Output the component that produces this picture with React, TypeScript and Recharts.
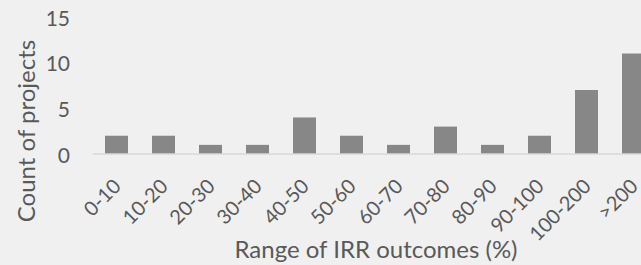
import { BarChart, Bar, XAxis, YAxis } from 'recharts';

const ranges = ['0-10', '10-20', '20-30', '30-40', '40-50', '50-60', '60-70', '70-80', '80-90', '90-100', '100-200', '>200'];
const counts = [2, 2, 1, 1, 4, 2, 1, 3, 1, 2, 7, 11];
const yTicks = [0, 5, 10, 15];

const data = ranges.map((name, i) => ({ name, count: counts[i] }));

const font = 'Lato, "Open Sans", sans-serif';
const textColor = '#595959';

function XTick(props: any) {
  const { x, y, payload } = props;
  return (
    <text
      x={x}
      y={y + 20}
      textAnchor="end"
      dominantBaseline="central"
      transform={`rotate(-45 ${x} ${y + 20})`}
      fontSize={20}
      fontFamily={font}
      fill={textColor}
    >
      {payload.value}
    </text>
  );
}

function YTick(props: any) {
  const { y, payload } = props;
  return (
    <text x={70} y={y} textAnchor="end" dominantBaseline="central" fontSize={21} fontFamily={font} fill={textColor}>
      {payload.value}
    </text>
  );
}

export default function App() {
  return (
    <div style={{ position: 'fixed', left: 0, top: 0, width: 641, height: 265, overflow: 'hidden', background: '#F0F0F0' }}>
      <BarChart width={680} height={265} data={data} margin={{ top: 17, right: 23, bottom: 0, left: 0 }}>
        <XAxis
          dataKey="name"
          stroke="#D9D9D9"
          strokeWidth={1.5}
          tickLine={false}
          interval={0}
          height={111}
          tick={<XTick />}
          label={{
            content: () => (
              <text x={376} y={258} textAnchor="middle" fontSize={24} fontFamily={font} fill={textColor}>
                Range of IRR outcomes (%)
              </text>
            ),
          }}
        />
        <YAxis
          width={93}
          domain={[0, 15]}
          ticks={yTicks}
          axisLine={false}
          tickLine={false}
          tick={<YTick />}
          label={{
            content: () => (
              <text
                x={35}
                y={131}
                textAnchor="middle"
                transform="rotate(-90 35 131)"
                fontSize={24}
                fontFamily={font}
                fill={textColor}
              >
                Count of projects
              </text>
            ),
          }}
        />
        <Bar dataKey="count" fill="#878787" barSize={23} isAnimationActive={false} />
      </BarChart>
    </div>
  );
}
